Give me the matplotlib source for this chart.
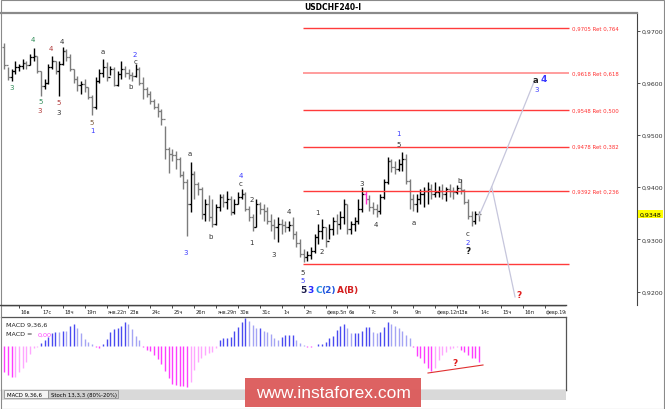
import numpy as np
import matplotlib
matplotlib.use("Agg")
import matplotlib.pyplot as plt
from matplotlib.patches import Rectangle
from matplotlib.lines import Line2D

plt.rcParams['font.family'] = ['DejaVu Sans']

# 4H bars, USDCHF
highs = [0.9676, 0.9630, 0.9627, 0.9642, 0.9636, 0.9646, 0.9642, 0.9655, 0.9667, 0.9652,
         0.9623, 0.9607, 0.9636, 0.9652, 0.9642, 0.9642, 0.9669, 0.9665, 0.9655, 0.9627,
         0.9613, 0.9604, 0.9607, 0.9592, 0.9577, 0.9611, 0.9627, 0.9646, 0.9640, 0.9632,
         0.9630, 0.9623, 0.9642, 0.9632, 0.9627, 0.9621, 0.9636, 0.9630, 0.9611, 0.9592,
         0.9585, 0.9569, 0.9561, 0.9550, 0.9517, 0.9477, 0.9473, 0.9470, 0.9458, 0.9431,
         0.9416, 0.9448, 0.9431, 0.9410, 0.9401, 0.9378, 0.9385, 0.9378, 0.9368, 0.9387,
         0.9387, 0.9393, 0.9383, 0.9378, 0.9391, 0.9397, 0.9391, 0.9364, 0.9349, 0.9378,
         0.9372, 0.9368, 0.9362, 0.9349, 0.9339, 0.9343, 0.9339, 0.9335, 0.9335, 0.9343,
         0.9316, 0.9301, 0.9282, 0.9278, 0.9286, 0.9310, 0.9330, 0.9339, 0.9324, 0.9330,
         0.9343, 0.9349, 0.9355, 0.9378, 0.9368, 0.9335, 0.9343, 0.9378, 0.9401, 0.9393,
         0.9385, 0.9372, 0.9368, 0.9387, 0.9416, 0.9458, 0.9454, 0.9450, 0.9454, 0.9468,
         0.9464, 0.9416, 0.9387, 0.9387, 0.9397, 0.9401, 0.9410, 0.9406, 0.9410, 0.9403,
         0.9406, 0.9401, 0.9406, 0.9401, 0.9404, 0.9416, 0.9397, 0.9378, 0.9355, 0.9355,
         0.9355]
lows = [0.9627, 0.9606, 0.9604, 0.9617, 0.9623, 0.9627, 0.9627, 0.9634, 0.9642, 0.9619,
        0.9575, 0.9588, 0.9598, 0.9627, 0.9617, 0.9575, 0.9634, 0.9642, 0.9623, 0.9600,
        0.9585, 0.9579, 0.9583, 0.9569, 0.9539, 0.9550, 0.9600, 0.9611, 0.9604, 0.9615,
        0.9594, 0.9594, 0.9607, 0.9611, 0.9607, 0.9604, 0.9611, 0.9596, 0.9569, 0.9573,
        0.9560, 0.9550, 0.9535, 0.9519, 0.9454, 0.9427, 0.9450, 0.9435, 0.9420, 0.9397,
        0.9307, 0.9353, 0.9378, 0.9385, 0.9339, 0.9335, 0.9335, 0.9324, 0.9328, 0.9355,
        0.9362, 0.9358, 0.9347, 0.9349, 0.9368, 0.9378, 0.9355, 0.9335, 0.9316, 0.9324,
        0.9349, 0.9335, 0.9330, 0.9316, 0.9301, 0.9295, 0.9310, 0.9314, 0.9316, 0.9301,
        0.9286, 0.9266, 0.9257, 0.9259, 0.9263, 0.9274, 0.9291, 0.9301, 0.9286, 0.9301,
        0.9309, 0.9310, 0.9320, 0.9330, 0.9310, 0.9310, 0.9316, 0.9330, 0.9353, 0.9368,
        0.9355, 0.9349, 0.9343, 0.9349, 0.9378, 0.9406, 0.9429, 0.9425, 0.9431, 0.9431,
        0.9406, 0.9358, 0.9355, 0.9353, 0.9368, 0.9362, 0.9368, 0.9378, 0.9381, 0.9381,
        0.9378, 0.9374, 0.9381, 0.9378, 0.9387, 0.9387, 0.9368, 0.9339, 0.9326, 0.9330,
        0.9335]
closes = [0.9634, 0.9611, 0.9623, 0.9630, 0.9632, 0.9638, 0.9634, 0.9650, 0.9652, 0.9623,
          0.9594, 0.9600, 0.9630, 0.9642, 0.9623, 0.9636, 0.9661, 0.9650, 0.9627, 0.9607,
          0.9596, 0.9598, 0.9592, 0.9573, 0.9554, 0.9604, 0.9619, 0.9630, 0.9611, 0.9627,
          0.9596, 0.9617, 0.9627, 0.9619, 0.9615, 0.9613, 0.9627, 0.9600, 0.9588, 0.9579,
          0.9565, 0.9554, 0.9546, 0.9531, 0.9473, 0.9464, 0.9462, 0.9454, 0.9424, 0.9410,
          0.9368, 0.9425, 0.9406, 0.9397, 0.9349, 0.9368, 0.9343, 0.9330, 0.9362, 0.9381,
          0.9372, 0.9378, 0.9353, 0.9368, 0.9381, 0.9387, 0.9358, 0.9343, 0.9324, 0.9368,
          0.9358, 0.9355, 0.9335, 0.9328, 0.9324, 0.9330, 0.9328, 0.9324, 0.9328, 0.9310,
          0.9293, 0.9272, 0.9266, 0.9270, 0.9278, 0.9305, 0.9316, 0.9324, 0.9297, 0.9320,
          0.9335, 0.9330, 0.9343, 0.9368, 0.9320, 0.9330, 0.9335, 0.9358, 0.9387, 0.9378,
          0.9362, 0.9358, 0.9355, 0.9381, 0.9410, 0.9450, 0.9439, 0.9435, 0.9445, 0.9454,
          0.9412, 0.9378, 0.9368, 0.9378, 0.9387, 0.9393, 0.9397, 0.9387, 0.9391, 0.9393,
          0.9387, 0.9397, 0.9393, 0.9391, 0.9399, 0.9395, 0.9372, 0.9345, 0.9335, 0.9349,
          0.9348]
first_open = 0.9668
pink_bar = 99

# MACD 9,36,6 histogram (no scale on the chart, relative units)
macd = [-26.7, -29.3, -31.3, -31.0, -26.7, -22.7, -16.0, -8.7, -2.7, -1.3,
        2.7, 5.3, 8.7, 12.3, 14.0, 13.3, 15.0, 14.7, 19.7, 21.3, 17.3, 12.3, 6.7, 4.0, 1.3,
        -1.3, -2.0,
        2.0, 6.7, 13.3, 16.7, 17.3, 20.0, 23.3, 22.0, 16.7, 10.0, 5.3,
        -1.3, -4.0, -5.3, -9.3, -13.3, -18.7, -25.3, -32.7, -38.7, -39.3, -40.0, -40.0,
        -41.3, -36.0, -24.3, -16.0, -12.0, -9.3, -7.3, -6.0, -2.7,
        5.7, 8.0, 8.0, 9.0, 14.7, 19.0, 24.0,
        27.3, 24.7, 20.7, 17.3, 17.3, 14.7, 14.0, 11.3, 7.3, 5.7, 9.0, 10.7, 10.7, 10.7,
        5.7, 2.7, 0.7,
        -1.3, -1.3, -0.3,
        1.3, 2.0, 4.0, 7.3, 10.0, 15.7, 20.0, 21.3, 18.0, 12.3, 12.3, 12.3, 14.7, 18.7,
        18.7, 14.0, 12.3, 13.3, 19.0, 23.3, 22.0, 20.0, 17.3, 14.7, 10.7, 7.3,
        -1.3, -10.0, -12.7, -17.7, -22.7, -25.3, -22.0, -14.3, -9.3, -6.0, -3.3, -2.7,
        -1.3, -4.0, -6.7, -9.3, -12.7, -12.7, -16.0]

day_labels = ["16в", "17с", "18ч", "19п", "янв.22п", "23в", "24с", "25ч", "26п",
              "янв.29п", "30в", "31с", "1ч", "2п", "февр.5п", "6в", "7с", "8ч", "9п",
              "февр.12п", "13в", "14с", "15ч", "16п", "февр.19п"]

fib_levels = [0.9705, 0.9618, 0.9548, 0.9478, 0.9392, 0.9253]
fib_ratios = ["0,764", "0,618", "0,500", "0,382", "0,236", None]

price_ticks = [0.9200, 0.9300, 0.9400, 0.9500, 0.9600, 0.9700]
last_price = 0.9348

# wave marks: (bar, price, text, colour)
BLK, BLU, GRN, RED = '#333333', '#3b3bff', '#2e8b57', '#b03a3a'
waves = [
    (2.1, 0.9592, "3", GRN), (7.8, 0.9684, "4", GRN), (9.8, 0.9565, "5", GRN),
    (9.8, 0.9548, "3", RED), (12.8, 0.9667, "4", RED), (15.0, 0.9563, "5", RED),
    (15.0, 0.9544, "3", BLK), (15.8, 0.9680, "4", BLK), (24.0, 0.9525, "5", '#7a5a3a'),
    (24.0, 0.9510, "1", BLU), (27.0, 0.9661, "a", BLK), (34.7, 0.9594, "b", BLK),
    (35.8, 0.9642, "c", BLK), (35.8, 0.9655, "2", BLU), (50.8, 0.9465, "a", BLK),
    (49.8, 0.9276, "3", BLU), (56.6, 0.9307, "b", BLK), (64.8, 0.9408, "c", BLK),
    (64.8, 0.9424, "4", BLU), (67.8, 0.9378, "2", BLK), (67.8, 0.9295, "1", BLK),
    (73.9, 0.9272, "3", BLK), (78.0, 0.9355, "4", BLK), (81.8, 0.9238, "5", BLK),
    (81.8, 0.9222, "5", BLU), (85.9, 0.9353, "1", BLK), (87.0, 0.9278, "2", BLK),
    (98.0, 0.9408, "3", BLK), (101.8, 0.9330, "4", BLK), (108.1, 0.9483, "5", BLK),
    (108.1, 0.9504, "1", BLU), (112.2, 0.9333, "a", BLK), (124.8, 0.9414, "b", BLK),
    (127.0, 0.9312, "c", BLK), (127.0, 0.9295, "2", BLU), (145.9, 0.9588, "3", BLU),
]
big_marks = [(81.8, "5", '#1a1a4a'), (84.0, "3", '#2a2aff'), (86.2, "C", '#1e8fe0'),
             (88.9, "(2)", '#2255dd'), (92.2, "A", '#d42020'), (94.9, "(B)", '#d42020')]
big_y = 0.9205

# expected path
path_up_x = [130, 133.5, 145.1]
path_up_y = [0.9345, 0.9401, 0.9602]
path_dn_x = [133.5, 139.9]
path_dn_y = [0.9401, 0.9190]

W, H = 665, 410


def rect(x0, y0, x1, y1):
    return [x0 / W, 1 - y1 / H, (x1 - x0) / W, (y1 - y0) / H]


def px_to_bar(x):
    return (x - 4.4) / 3.65


fig = plt.figure(figsize=(W / 100, H / 100), dpi=100)
fig.patch.set_facecolor('white')

# main price panel
ax = fig.add_axes(rect(1, 14, 637, 306))
ax.set_xlim(px_to_bar(1), px_to_bar(637))
ax.set_ylim(0.91744, 0.97339)
for s in ['left', 'bottom']:
    ax.spines[s].set_visible(False)
ax.spines['top'].set_color('#8a8a8a')
ax.spines['top'].set_linewidth(1.6)
ax.spines['right'].set_color('#444444')
ax.spines['right'].set_linewidth(0.8)
ax.set_xticks([])
ax.yaxis.tick_right()
ax.set_yticks(price_ticks)
ax.set_yticklabels([f"{p:.4f}".replace('.', ',') for p in price_ticks])
ax.tick_params(axis='y', length=2.5, width=0.6, labelsize=4.5, pad=0.5, colors='#333333')

opens = [first_open] + closes[:-1]
for k in range(len(closes)):
    col = '#000000' if closes[k] >= opens[k] else '#7c7c7c'
    if k == pink_bar:
        col = '#ff33cc'
    ax.vlines(k, lows[k], highs[k], color=col, lw=1.0)
    ax.hlines(opens[k], k - 0.55, k, color=col, lw=0.9)
    ax.hlines(closes[k], k, k + 0.55, color=col, lw=0.9)

fx0, fx1 = px_to_bar(303), px_to_bar(569)
for lvl, r in zip(fib_levels, fib_ratios):
    c = '#ff8c8c' if r == "0,618" else '#ff3b3b'
    ax.hlines(lvl, fx0, fx1, color=c, lw=1.2 if r == "0,618" else 1.0)
    if r:
        ax.text(px_to_bar(572), lvl, f"{lvl:.4f}".replace('.', ',') + " Ret " + r,
                color='#ff3030', fontsize=3.9, va='center', ha='left')

ax.plot(path_up_x, path_up_y, color='#c6c6dc', lw=0.9)
ax.plot(path_dn_x, path_dn_y, color='#c6c6dc', lw=0.9)

for x, y, t, c in waves:
    ax.text(x, y, t, color=c, fontsize=5, ha='center', va='center')
ax.text(127.0, 0.9278, "?", color='#222222', fontsize=6.5, fontweight='bold',
        ha='center', va='center')
ax.text(145.6, 0.9607, "a", color='#222222', fontsize=6, fontweight='bold',
        ha='center', va='center')
ax.text(147.8, 0.9609, "4", color=BLU, fontsize=6.5, fontweight='bold',
        ha='center', va='center')
ax.text(141.0, 0.9194, "?", color='#e02020', fontsize=6.5, fontweight='bold',
        ha='center', va='center')
for x, t, c in big_marks:
    ax.text(x, big_y, t, color=c, fontsize=6.5, fontweight='bold', ha='center', va='center')

ax.text(1.004, last_price, f"{last_price:.4f}".replace('.', ','), transform=ax.get_yaxis_transform(),
        fontsize=4.5, va='center', ha='left', color='#000000',
        bbox=dict(boxstyle='square,pad=0.25', fc='#ffff00', ec='none'))

fig.text(333 / W, 1 - 7 / H, "USDCHF240-I", fontsize=5.5, fontweight='bold',
         ha='center', va='center')

# time strip
ax_t = fig.add_axes(rect(1, 306, 566, 317))
ax_t.set_xlim(px_to_bar(1), px_to_bar(566))
ax_t.set_ylim(0, 1)
ax_t.axis('off')
ticks = [4 + 6 * i for i in range(len(day_labels))]
ax_t.hlines(1, px_to_bar(1), px_to_bar(566), color='#444444', lw=1.0)
ax_t.vlines(ticks, 0.7, 1, color='#444444', lw=0.7)
for t, lab in zip(ticks, day_labels):
    ax_t.text(t + 0.4, 0.38, lab, fontsize=3.4 if len(lab) > 6 else 3.7, ha='left',
              va='center', color='#222222', clip_on=True)

# MACD panel
ax_m = fig.add_axes(rect(1, 317.7, 566, 390.7))
ax_m.set_xlim(px_to_bar(1), px_to_bar(566))
ax_m.set_ylim(-44, 29)
ax_m.set_xticks([])
ax_m.set_yticks([])
for s in ax_m.spines.values():
    s.set_color('#555555')
    s.set_linewidth(0.9)
ax_m.spines['left'].set_visible(False)
prev = 0
for k, v in enumerate(macd):
    if v >= 0:
        col = '#4a4af0' if v >= prev else '#a4a4f4'
    else:
        col = '#ff3dff' if v <= prev else '#ffa6ff'
    ax_m.vlines(k, 0, v, color=col, lw=1.0)
    prev = v
ax_m.plot([px_to_bar(428), px_to_bar(483)], [-27.3, -19.3], color='#e03030', lw=0.8)
ax_m.text(px_to_bar(455), -17.3, "?", color='#e02020', fontsize=6.5, fontweight='bold',
          ha='center', va='center')
ax_m.text(0.008, 0.93, "MACD 9,36,6", transform=ax_m.transAxes, fontsize=4.6,
          va='top', ha='left', color='#222222')
ax_m.text(0.008, 0.80, "MACD =", transform=ax_m.transAxes, fontsize=4.6,
          va='top', ha='left', color='#222222')
ax_m.text(0.064, 0.80, "0,00", transform=ax_m.transAxes, fontsize=4.6,
          va='top', ha='left', color='#ff40ff')

# tab strip
fig.patches.append(Rectangle((1 / W, 1 - 401 / H), 565 / W, 10 / H, transform=fig.transFigure,
                             fc='#d9d9d9', ec='none'))
fig.patches.append(Rectangle((4 / W, 1 - 399 / H), 44 / W, 8 / H, transform=fig.transFigure,
                             fc='#f4f4f4', ec='#888888', lw=0.5))
fig.patches.append(Rectangle((48 / W, 1 - 399 / H), 70 / W, 8 / H, transform=fig.transFigure,
                             fc='#cfcfcf', ec='#888888', lw=0.5))
fig.text(7 / W, 1 - 395.5 / H, "MACD 9,36,6", fontsize=3.9, va='center', ha='left')
fig.text(51 / W, 1 - 395.5 / H, "Stoch 13,3,3 (80%-20%)", fontsize=3.9, va='center', ha='left')

# watermark
fig.patches.append(Rectangle((245 / W, 1 - 408 / H), 176 / W, 29 / H, transform=fig.transFigure,
                             fc='#dc5a5a', ec='none', alpha=0.95))
fig.text(333 / W, 1 - 394 / H, "www.instaforex.com", fontsize=12.5, color='white',
         family='Liberation Sans', ha='center', va='center')

# outer frame
fig.patches.append(Rectangle((0.5 / W, 0.5 / H), 663 / W, 408.5 / H, transform=fig.transFigure,
                             fc='none', ec='#8a8a8a', lw=0.8))
fig.add_artist(Line2D([0, 566 / W], [1 - 306 / H] * 2, color='#444444', lw=1.0))

fig.savefig("out.png", dpi=100)
